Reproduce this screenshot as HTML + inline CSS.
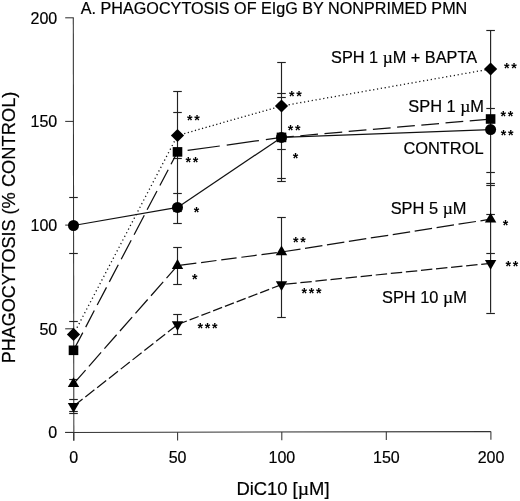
<!DOCTYPE html>
<html><head><meta charset="utf-8"><title>Phagocytosis of EIgG by nonprimed PMN</title>
<style>
html,body{margin:0;padding:0;background:#fff;}
body{width:520px;height:501px;overflow:hidden;}
svg{display:block;}
text{font-family:"Liberation Sans",sans-serif;fill:#000;stroke:#000;stroke-width:0.2;}
.mu{font-family:"Liberation Serif",serif;font-size:107%;}
.ln{fill:none;stroke:#111;stroke-width:1.25;}
.eb{stroke:#222;stroke-width:1.15;fill:none;}
.dot{stroke-width:1.3;}
.ax{stroke:#333;stroke-width:1.05;fill:none;}
.mk{fill:#000;stroke:none;}
.st{font-weight:bold;letter-spacing:1.75px;stroke:none;}
</style></head><body>
<svg width="520" height="501" viewBox="0 0 520 501">
<rect width="520" height="501" fill="#fff"/>

<g class="ax">
<path d="M73.3 17.8L73.85 440.7"/>
<path d="M65.2 432.4L490.9 431.6"/>
<path d="M65.2 432.4H73.7"/>
<path d="M73.7 432.4V440.6"/>
<path d="M65.2 328.8H73.7"/>
<path d="M177.6 432.2V440.4"/>
<path d="M65.2 225.1H73.7"/>
<path d="M281.8 432.0V440.2"/>
<path d="M65.2 121.4H73.7"/>
<path d="M386.3 431.8V440.0"/>
<path d="M65.2 17.8H73.7"/>
<path d="M490.9 431.6V439.8"/>
</g>
<path class="eb" d="M69.2 197.5H77.8"/>
<path class="eb" d="M69.2 253.5H77.8"/>
<path class="eb" d="M69.2 321.5H77.8"/>
<path class="eb" d="M69.2 379.5H77.8"/>
<path class="eb" d="M69.2 399.5H77.8"/>
<path class="eb" d="M69.2 411.5H77.8"/>
<path class="eb" d="M69.2 413.5H77.8"/>
<path class="eb" d="M177.5 91.6V223.0"/>
<path class="eb" d="M173.2 91.5H181.8"/>
<path class="eb" d="M173.2 112.5H181.8"/>
<path class="eb" d="M173.2 158.5H181.8"/>
<path class="eb" d="M173.2 193.5H181.8"/>
<path class="eb" d="M173.2 211.5H181.8"/>
<path class="eb" d="M173.2 223.5H181.8"/>
<path class="eb" d="M177.5 247.4V284.0"/>
<path class="eb" d="M173.2 247.5H181.8"/>
<path class="eb" d="M173.2 284.5H181.8"/>
<path class="eb" d="M177.5 314.4V334.4"/>
<path class="eb" d="M173.2 314.5H181.8"/>
<path class="eb" d="M173.2 334.5H181.8"/>
<path class="eb" d="M281.5 62.6V181.0"/>
<path class="eb" d="M277.2 62.5H285.8"/>
<path class="eb" d="M277.2 93.5H285.8"/>
<path class="eb" d="M277.2 97.5H285.8"/>
<path class="eb" d="M277.2 149.5H285.8"/>
<path class="eb" d="M277.2 178.5H285.8"/>
<path class="eb" d="M277.2 181.5H285.8"/>
<path class="eb" d="M281.5 217.4V317.7"/>
<path class="eb" d="M277.2 217.5H285.8"/>
<path class="eb" d="M277.2 317.5H285.8"/>
<path class="eb" d="M490.6 30.0V312.8"/>
<path class="eb" d="M486.3 30.5H494.9"/>
<path class="eb" d="M486.3 108.5H494.9"/>
<path class="eb" d="M486.3 172.5H494.9"/>
<path class="eb" d="M486.3 183.5H494.9"/>
<path class="eb" d="M486.3 185.5H494.9"/>
<path class="eb" d="M486.3 214.5H494.9"/>
<path class="eb" d="M486.3 253.5H494.9"/>
<path class="eb" d="M486.3 313.5H494.9"/>
<path class="ln" d="M73.5 225.5L177.5 207.4"/>
<path class="ln" d="M177.5 207.4L281.5 137.4"/>
<path class="ln" d="M281.5 137.4L490.6 129.6"/>
<path class="ln" d="M73.5 350.3L82.8 332.6M85.7 327.1L94.3 310.5M97.2 305.0L106.5 287.4M109.3 281.9L118.3 264.8M121.2 259.3L131.2 240.2M134.1 234.7L144.3 215.3M147.1 209.8L157.0 191.0M159.9 185.5L168.2 169.7M171.0 164.2L177.5 151.9"/>
<path class="ln" d="M177.5 151.9L281.5 137.4" stroke-dasharray="32.50 7.00" stroke-dashoffset="29.30"/>
<path class="ln" d="M281.5 137.4L490.6 119.0" stroke-dasharray="17.80 6.50" stroke-dashoffset="5.45"/>
<path class="ln dot" d="M73.5 334.4L177.5 135.5" stroke-dasharray="1.20 2.90" stroke-dashoffset="0.65"/>
<path class="ln dot" d="M177.5 135.5L281.5 106.0" stroke-dasharray="1.20 2.50" stroke-dashoffset="0.45"/>
<path class="ln dot" d="M281.5 106.0L490.6 69.0" stroke-dasharray="1.20 2.70" stroke-dashoffset="0.55"/>
<path class="ln" d="M73.5 383.8L177.5 265.6" stroke-dasharray="18.50 5.00" stroke-dashoffset="0.20"/>
<path class="ln" d="M177.5 265.6L281.5 252.0" stroke-dasharray="15.50 4.80" stroke-dashoffset="16.80"/>
<path class="ln" d="M281.5 252.0L490.6 219.2" stroke-dasharray="17.60 4.60" stroke-dashoffset="20.60"/>
<path class="ln" d="M73.5 406.2L177.5 324.6" stroke-dasharray="11.50 3.50" stroke-dashoffset="14.95"/>
<path class="ln" d="M177.5 324.6L281.5 284.6" stroke-dasharray="9.60 3.00" stroke-dashoffset="12.20"/>
<path class="ln" d="M281.5 284.6L490.6 263.3" stroke-dasharray="11.45 3.70" stroke-dashoffset="11.35"/>
<circle class="mk" cx="73.5" cy="225.5" r="5.5"/>
<circle class="mk" cx="177.5" cy="207.4" r="5.5"/>
<circle class="mk" cx="281.5" cy="137.4" r="5.5"/>
<circle class="mk" cx="490.6" cy="129.6" r="5.5"/>
<rect class="mk" x="68.7" y="345.5" width="9.6" height="9.6"/>
<rect class="mk" x="172.7" y="147.1" width="9.6" height="9.6"/>
<rect class="mk" x="276.7" y="132.6" width="9.6" height="9.6"/>
<rect class="mk" x="485.8" y="114.2" width="9.6" height="9.6"/>
<path class="mk" d="M73.5 327.8L80.1 334.4L73.5 341.0L66.9 334.4Z"/>
<path class="mk" d="M177.5 128.9L184.1 135.5L177.5 142.1L170.9 135.5Z"/>
<path class="mk" d="M281.5 99.4L288.1 106.0L281.5 112.6L274.9 106.0Z"/>
<path class="mk" d="M490.6 62.4L497.2 69.0L490.6 75.6L484.0 69.0Z"/>
<path class="mk" d="M73.5 377.3L79.2 387.1H67.8Z"/>
<path class="mk" d="M177.5 259.1L183.2 268.9H171.8Z"/>
<path class="mk" d="M281.5 245.5L287.2 255.3H275.8Z"/>
<path class="mk" d="M490.6 212.7L496.3 222.5H484.9Z"/>
<path class="mk" d="M73.5 412.7L79.2 402.9H67.8Z"/>
<path class="mk" d="M177.5 331.1L183.2 321.3H171.8Z"/>
<path class="mk" d="M281.5 291.1L287.2 281.3H275.8Z"/>
<path class="mk" d="M490.6 269.8L496.3 260.0H484.9Z"/>
<text x="57.2" y="438.2" font-size="16" text-anchor="end">0</text>
<text x="73.7" y="463" font-size="16" text-anchor="middle">0</text>
<text x="57.2" y="334.6" font-size="16" text-anchor="end">50</text>
<text x="177.6" y="463" font-size="16" text-anchor="middle">50</text>
<text x="57.2" y="230.9" font-size="16" text-anchor="end">100</text>
<text x="281.9" y="463" font-size="16" text-anchor="middle">100</text>
<text x="57.2" y="127.2" font-size="16" text-anchor="end">150</text>
<text x="386.4" y="463" font-size="16" text-anchor="middle">150</text>
<text x="57.2" y="23.6" font-size="16" text-anchor="end">200</text>
<text x="491.0" y="463" font-size="16" text-anchor="middle">200</text>
<text x="80.8" y="13.8" font-size="16.1" textLength="386.5" lengthAdjust="spacingAndGlyphs">A. PHAGOCYTOSIS OF EIgG BY NONPRIMED PMN</text>
<text transform="translate(15.3,363.2) rotate(-90)" font-size="18">PHAGOCYTOSIS</text>
<text transform="translate(15.3,214.5) rotate(-90)" font-size="18.3">(% CONTROL)</text>
<text x="236.4" y="495.4" font-size="18.4">DiC10 [<tspan class="mu">µ</tspan>M]</text>
<text x="331.1" y="62.8" font-size="16.3">SPH 1 <tspan class="mu">µ</tspan>M + BAPTA</text>
<text x="408.3" y="112.3" font-size="16.4">SPH 1 <tspan class="mu">µ</tspan>M</text>
<text x="403.4" y="153.8" font-size="16.4">CONTROL</text>
<text x="390.7" y="214.3" font-size="16.4">SPH 5 <tspan class="mu">µ</tspan>M</text>
<text x="382.0" y="303.2" font-size="16.4">SPH 10 <tspan class="mu">µ</tspan>M</text>
<text class="st" x="187.1" y="124.7" font-size="14.2">**</text>
<text class="st" x="185.6" y="166.6" font-size="14.2">**</text>
<text class="st" x="193.7" y="216.5" font-size="14.2">*</text>
<text class="st" x="192.1" y="283.6" font-size="14.2">*</text>
<text class="st" x="197.5" y="333.4" font-size="14.2">***</text>
<text class="st" x="289.1" y="100.5" font-size="14.2">**</text>
<text class="st" x="287.7" y="135.1" font-size="14.2">**</text>
<text class="st" x="292.7" y="163.0" font-size="14.2">*</text>
<text class="st" x="292.9" y="247.1" font-size="14.2">**</text>
<text class="st" x="301.4" y="298.2" font-size="14.2">***</text>
<text class="st" x="504.1" y="72.9" font-size="14.2">**</text>
<text class="st" x="500.6" y="120.7" font-size="14.2">**</text>
<text class="st" x="500.8" y="139.9" font-size="14.2">**</text>
<text class="st" x="502.7" y="229.6" font-size="14.2">*</text>
<text class="st" x="505.5" y="270.6" font-size="14.2">**</text>
</svg></body></html>
